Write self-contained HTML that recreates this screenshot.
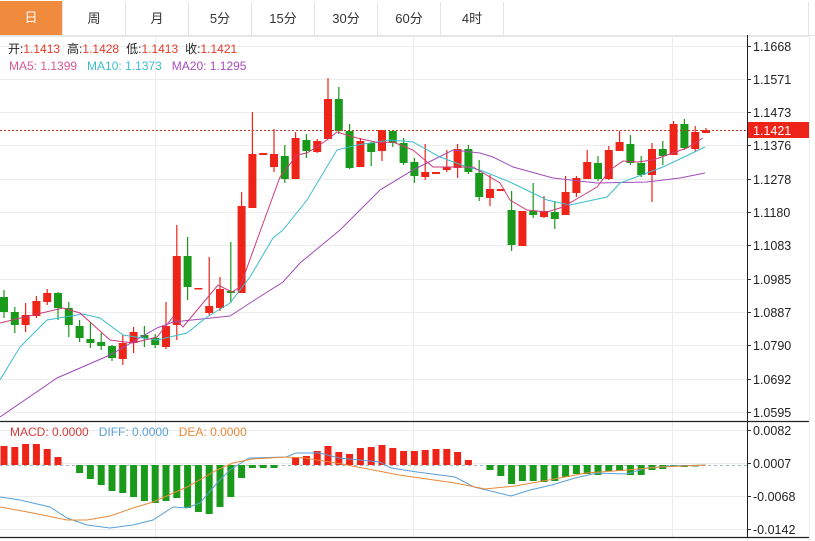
<!DOCTYPE html>
<html><head><meta charset="utf-8">
<style>
html,body{margin:0;padding:0;background:#fff;width:815px;height:541px;overflow:hidden;font-family:"Liberation Sans","Noto Sans CJK SC",sans-serif;}
.tabs{position:absolute;left:0;top:0;width:815px;height:35px;border-bottom:1px solid #e4e4e4;}
.tab{position:absolute;top:2px;height:33px;width:62px;border-right:1px solid #e4e4e4;text-align:center;line-height:33px;font-size:13px;color:#333;}
svg{position:absolute;left:0;top:0}
</style></head><body>
<div class="tabs">
<div class="tab" style="left:0;background:#f08a3c;color:#fff;top:1px;height:34px">日</div>
<div class="tab" style="left:63px">周</div>
<div class="tab" style="left:126px">月</div>
<div class="tab" style="left:189px">5分</div>
<div class="tab" style="left:252px">15分</div>
<div class="tab" style="left:315px">30分</div>
<div class="tab" style="left:378px">60分</div>
<div class="tab" style="left:441px">4时</div>
<div class="tab" style="left:504px;width:304px"></div>
</div>
<svg id="s" width="815" height="541" xmlns="http://www.w3.org/2000/svg" style="top:0"></svg>
<script>
(function(){
var s='';
var priceLabels=["1.1668","1.1571","1.1473","1.1376","1.1278","1.1180","1.1083","1.0985","1.0887","1.0790","1.0692","1.0595"];
s+='<line x1="0" y1="36.5" x2="809" y2="36.5" stroke="#e8e8e8"/>';
for(var i=0;i<12;i++){var y=Math.round(45.5+i*33.3)+0.5;
s+='<line x1="0" y1="'+y+'" x2="747" y2="'+y+'" stroke="#ececec"/>';
s+='<line x1="747" y1="'+y+'" x2="751" y2="'+y+'" stroke="#333"/>';
s+='<text x="753" y="'+(y+4.5)+'" font-size="12.5" fill="#222">'+priceLabels[i]+'</text>';}
[155.5,413.5,672.5].forEach(function(x){s+='<line x1="'+x+'" y1="36" x2="'+x+'" y2="537" stroke="#ececec"/>';});
s+='<line x1="809.5" y1="36" x2="809.5" y2="541" stroke="#eee"/>';
[[430,"0.0082"],[463,"0.0007"],[496,"-0.0068"],[529,"-0.0142"]].forEach(function(a){var y=a[0]+0.5;
s+='<line x1="0" y1="'+y+'" x2="747" y2="'+y+'" stroke="#ececec"/>';
s+='<line x1="747" y1="'+y+'" x2="751" y2="'+y+'" stroke="#333"/>';
s+='<text x="753" y="'+(y+4.5)+'" font-size="12.5" fill="#222">'+a[1]+'</text>';});
s+='<line x1="0" y1="465.5" x2="747" y2="465.5" stroke="#9fb8c8" stroke-dasharray="3,3"/>';
var C=[[297,312,290,318,'g'],[312,325,307,333,'g'],[315,325,303,332,'r'],[301,316,296,318,'r'],[293,302,289,305,'r'],[293,308,292,320,'g'],[308,325,302,337,'g'],[326,338,320,342,'g'],[339,343,322,348,'g'],[342,346,333,350,'g'],[346,358,345,361,'g'],[343,359,335,365,'r'],[332,343,327,353,'r'],[335,338,326,347,'g'],[338,345,334,348,'g'],[326,347,302,349,'r'],[256,325,225,340,'r'],[256,287,237,300,'g'],[288,289,288,289,'r'],[306,313,257,315,'r'],[289,308,277,311,'r'],[291,293,242,303,'g'],[206,293,192,293,'r'],[154,208,112,208,'r'],[153,155,153,155,'r'],[154,167,129,172,'r'],[156,179,145,183,'g'],[138,179,132,179,'r'],[140,151,134,158,'g'],[141,152,139,153,'r'],[99,139,78,139,'r'],[99,131,87,134,'g'],[131,168,124,169,'g'],[141,167,138,167,'r'],[143,152,142,166,'g'],[130,151,130,161,'r'],[131,143,131,147,'g'],[143,163,138,165,'g'],[162,176,158,183,'g'],[172,177,144,180,'r'],[172,174,172,174,'r'],[167,170,150,172,'r'],[149,168,144,178,'r'],[149,172,145,174,'g'],[173,197,160,201,'g'],[189,198,175,206,'r'],[189,191,189,191,'r'],[210,245,191,251,'g'],[211,246,211,246,'r'],[211,215,183,218,'g'],[211,217,196,218,'r'],[212,219,201,229,'g'],[192,215,176,215,'r'],[178,193,176,197,'r'],[162,179,150,179,'r'],[163,179,156,181,'g'],[150,179,146,180,'r'],[142,151,131,151,'r'],[144,163,135,165,'g'],[163,175,156,177,'g'],[149,175,143,202,'r'],[149,156,141,165,'g'],[124,155,121,155,'r'],[124,148,119,150,'g'],[132,149,126,152,'r'],[130,133,128,133,'r']];
var RED='#ee2418',GRN='#1a9a1a';
function X(i){return 4+i*10.8;}
C.forEach(function(c,i){var x=X(i),col=c[4]=='r'?RED:GRN;
s+='<line x1="'+x+'" y1="'+c[2]+'" x2="'+x+'" y2="'+c[3]+'" stroke="'+col+'" stroke-width="1.2"/>';
var h=Math.max(c[1]-c[0],1.5);
s+='<rect x="'+(x-4)+'" y="'+c[0]+'" width="8" height="'+h+'" fill="'+col+'"/>';});
function pl(pts,col){s+='<polyline fill="none" stroke="'+col+'" stroke-width="1" points="'+pts.map(function(p){return p.join(',')}).join(' ')+'"/>';}
pl([[0,417],[57,378],[110,355],[157,328],[173,322],[230,316],[250,303],[283,282],[300,263],[340,230],[380,190],[413,170],[453,150],[480,153],[493,157],[513,167],[553,178],[597,183],[647,182],[680,178],[705,173]],'#a04cb8');
pl([[0,380],[20,347],[47,320],[83,314],[100,318],[123,335],[157,340],[187,333],[207,317],[230,303],[250,277],[273,238],[283,230],[307,200],[337,150],[357,145],[390,140],[413,142],[440,157],[467,167],[480,170],[510,182],[547,200],[570,205],[607,197],[620,183],[663,167],[705,147]],'#3cbccc');
pl([[0,323],[33,315],[63,308],[80,313],[110,340],[133,343],[157,337],[173,317],[183,327],[218,285],[232,292],[240,287],[257,240],[280,177],[297,155],[307,153],[327,140],[337,132],[357,138],[380,143],[393,142],[413,150],[433,167],[453,167],[473,167],[500,183],[510,200],[527,210],[547,212],[563,207],[580,197],[597,187],[610,170],[623,161],[637,162],[653,160],[667,155],[687,148],[703,138]],'#cc3a78');
s+='<line x1="0" y1="130.5" x2="747" y2="130.5" stroke="#d83020" stroke-dasharray="2,2"/>';
s+='<rect x="748" y="122" width="61" height="16" fill="#ee2418"/><text x="753" y="135" font-size="12.5" fill="#fff">1.1421</text>';
var H={0:446,1:447,2:444,3:444,4:449,5:457,7:473,8:479,9:485,10:491,11:493,12:497,13:501,14:503,15:501,16:498,17:508,18:512,19:514,20:507,21:497,22:478,23:468,24:468,25:468};
var red=[457,456,451,446,452,454,448,447,445,448,451,451,450,449,449,452,460];
red.forEach(function(v,k){H[27+k]=v;});
var g2=[470,476,484,481,481,482,481,477,474,474,475,471,471,475,475,470,469,466,467,466];
g2.forEach(function(v,k){H[45+k]=v;});
for(var k in H){var v=H[k],x=X(+k);var ty=Math.min(v,465),h=Math.max(Math.abs(v-465),1.5);
s+='<rect x="'+(x-3.5)+'" y="'+ty+'" width="7" height="'+h+'" fill="'+(v<465?RED:GRN)+'"/>';}
pl([[0,497],[20,500],[50,507],[67,518],[87,525],[110,528],[133,525],[153,520],[173,507],[187,508],[200,503],[217,483],[230,470],[249,458],[286,457],[296,453],[320,453],[339,458],[380,462],[391,468],[417,472],[455,477],[474,487],[511,496],[530,490],[552,485],[575,478],[597,473],[627,474],[646,468],[672,466],[706,465]],'#5aa0d8');
pl([[0,507],[33,513],[67,520],[87,520],[110,516],[133,508],[153,502],[187,487],[217,470],[233,463],[252,459],[286,457],[305,458],[342,464],[399,475],[455,483],[485,489],[515,486],[549,480],[586,473],[627,470],[661,467],[706,465]],'#e8893a');
s+='<line x1="747.5" y1="35" x2="747.5" y2="538" stroke="#222"/>';
s+='<line x1="0" y1="421.5" x2="809" y2="421.5" stroke="#222" stroke-width="1.3"/>';
s+='<line x1="0" y1="537.5" x2="809" y2="537.5" stroke="#222" stroke-width="1.3"/>';
s+='<text y="53" font-size="12"><tspan x="8" fill="#222">开:</tspan><tspan fill="#e03a2a">1.1413</tspan><tspan dx="7" fill="#222">高:</tspan><tspan fill="#e03a2a">1.1428</tspan><tspan dx="7" fill="#222">低:</tspan><tspan fill="#e03a2a">1.1413</tspan><tspan dx="7" fill="#222">收:</tspan><tspan fill="#e03a2a">1.1421</tspan></text>';
s+='<text y="70" font-size="12"><tspan x="9" fill="#d85a90">MA5:  1.1399</tspan><tspan dx="10" fill="#3cbccc">MA10: 1.1373</tspan><tspan dx="10" fill="#a64cbc">MA20:  1.1295</tspan></text>';
s+='<text y="436" font-size="12"><tspan x="10" fill="#d83a3a">MACD: 0.0000</tspan><tspan dx="10" fill="#5aa0d8">DIFF: 0.0000</tspan><tspan dx="10" fill="#e8893a">DEA: 0.0000</tspan></text>';
document.getElementById('s').innerHTML=s;
})();
</script>
</body></html>
